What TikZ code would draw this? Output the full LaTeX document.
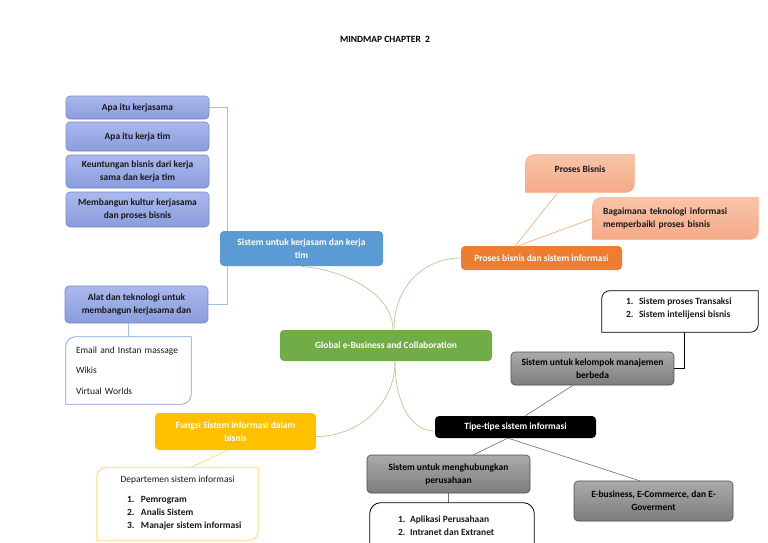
\documentclass[tikz,border=0pt]{standalone}
\usepackage{fontspec}
\setmainfont{Carlito}
\usetikzlibrary{calc}
\pgfdeclarelayer{back}
\pgfdeclarelayer{mid}
\pgfsetlayers{back,mid,main}
\definecolor{lavT}{RGB}{170,184,236}
\definecolor{lavB}{RGB}{138,156,222}
\definecolor{lavD}{RGB}{118,136,204}
\definecolor{blueK}{RGB}{91,155,213}
\definecolor{greenG}{RGB}{112,173,71}
\definecolor{orangeO}{RGB}{237,125,49}
\definecolor{salT}{RGB}{249,196,168}
\definecolor{salB}{RGB}{244,170,136}
\definecolor{salL}{RGB}{244,177,131}
\definecolor{grayT}{RGB}{170,170,170}
\definecolor{grayB}{RGB}{125,125,125}
\definecolor{grayD}{RGB}{75,75,75}
\definecolor{yellowY}{RGB}{255,192,0}
\definecolor{yellowL}{RGB}{255,217,102}
\definecolor{blueL}{RGB}{157,195,230}
\definecolor{blueE}{RGB}{130,160,220}
\definecolor{greenL}{RGB}{169,209,142}
\definecolor{lineG}{RGB}{110,110,110}
\newcommand\fnt{\fontsize{9.5}{13}\selectfont\bfseries}
\newcommand\diagshape[3]{%
  \begin{pgfonlayer}{mid}
  \path[#3] ($(#1.north west)+(0,#2)$) .. controls ($(#1.north west)+(0,0.45*#2)$) and ($(#1.north west)+(0.45*#2,0)$) .. ($(#1.north west)+(#2,0)$)
    -- (#1.north east) -- ($(#1.south east)+(0,-#2)$) .. controls ($(#1.south east)+(0,-0.45*#2)$) and ($(#1.south east)+(-0.45*#2,0)$) .. ($(#1.south east)+(-#2,0)$)
    -- (#1.south west) -- cycle;
  \end{pgfonlayer}}
\begin{document}
\begin{tikzpicture}[x=1pt,y=-1pt,
  box/.style={inner sep=0pt, align=center, font=\fnt, rounded corners=4pt, line width=0.6pt},
  lav/.style={box, top color=lavT, bottom color=lavB, draw=lavD, text=black!90},
  solid/.style={box, fill=#1, text=white},
  grayn/.style={box, top color=grayT, bottom color=grayB, draw=grayD, text=black},
  plain/.style={box, text=black!90},
  gcurve/.style={draw=greenL, line width=0.7pt},
  gline/.style={draw=lineG, line width=0.6pt},
  titlestyle/.style={font=\fontsize{9.5}{11}\selectfont\bfseries, inner sep=0pt}
]
\begin{pgfonlayer}{back}
\fill[white] (0,0) rectangle (768,543);
\end{pgfonlayer}
\useasboundingbox (0,0) rectangle (768,543);

\node[titlestyle] (title) at (385,39) {MINDMAP CHAPTER\ \ 2};

% left column
\node[lav, minimum width=143pt, minimum height=23pt] (a1) at (137.5,107.5) {Apa itu kerjasama};
\node[lav, minimum width=143pt, minimum height=29pt] (a2) at (137.5,136.5) {Apa itu kerja tim};
\node[lav, minimum width=143pt, minimum height=33pt] (a3) at (137.5,171.5) {Keuntungan bisnis dari kerja\\sama dan kerja tim};
\node[lav, minimum width=143pt, minimum height=35pt] (a4) at (137.5,209.5) {Membangun kultur kerjasama\\dan proses bisnis};
\node[lav, minimum width=143pt, minimum height=37pt] (a5) at (136.5,304.5) {Alat dan teknologi untuk\\membangun kerjasama dan};
\node[solid=blueK, minimum width=163pt, minimum height=35pt] (kt) at (301.5,248.5) {Sistem untuk kerjasam dan kerja\\tim};
\node[plain, text width=105pt, inner xsep=10pt, minimum height=67pt, align=left,
      font=\fontsize{9.5}{20.5}\selectfont] (em) at (128.5,370.5) {Email and Instan massage\\Wikis\\Virtual Worlds};
\diagshape{em}{10}{fill=white, draw=blueE, line width=0.7pt}

% center
\node[solid=greenG, minimum width=212pt, minimum height=31pt] (g) at (386,345.5) {Global e-Business and Collaboration};

% orange branch
\node[solid=orangeO, minimum width=161pt, minimum height=24pt] (pr) at (541.5,258) {Proses bisnis dan sistem informasi};
\node[plain, minimum width=108pt, minimum height=37pt] (pb) at (580,173.5) {Proses Bisnis\\[-5pt]\mbox{}};
\diagshape{pb}{8}{top color=salT, bottom color=salB, draw=salL, line width=0.5pt}
\node[plain, text width=145pt, inner xsep=10pt, minimum height=41pt, align=left] (bg) at (675.5,218.5) {Bagaimana teknologi informasi\\memperbaiki proses bisnis};
\diagshape{bg}{8}{top color=salT, bottom color=salB, draw=salL, line width=0.5pt}

% black branch
\node[plain, minimum width=156pt, minimum height=41pt] (sp) at (680,311.5)
  {\makebox[108pt][l]{\begin{tabular}[t]{@{}l@{}}\makebox[13pt][l]{1.}Sistem proses Transaksi\\\makebox[13pt][l]{2.}Sistem intelijensi bisnis\end{tabular}}\\[5pt]\mbox{}};
\diagshape{sp}{8}{fill=white, draw=black, line width=0.8pt}
\node[grayn, minimum width=163pt, minimum height=33pt] (gm) at (592.5,368.5) {Sistem untuk kelompok manajemen\\berbeda};
\node[solid=black, minimum width=161pt, minimum height=22pt] (tt) at (515.5,427) {Tipe-tipe sistem informasi};
\node[grayn, minimum width=163pt, minimum height=38pt] (gh) at (448.5,474) {Sistem untuk menghubungkan\\perusahaan};
\node[plain, minimum width=164pt, minimum height=52pt] (ap) at (452,529)
  {\makebox[108pt][l]{\begin{tabular}[t]{@{}l@{}}\makebox[12pt][l]{1.}Aplikasi Perusahaan\\\makebox[12pt][l]{2.}Intranet dan Extranet\end{tabular}}\\[5pt]\mbox{}};
\begin{pgfonlayer}{mid}
\path[fill=white, draw=black, line width=0.8pt, rounded corners=11pt] (ap.south west) rectangle (ap.north east);
\end{pgfonlayer}
\node[grayn, minimum width=159pt, minimum height=40pt] (eb) at (653.5,501) {E-business, E-Commerce, dan E-\\Goverment};

% yellow branch
\node[solid=yellowY, minimum width=161pt, minimum height=37pt] (fy) at (235.5,431.5) {Fungsi Sistem informasi dalam\\bisnis};
\node[plain, minimum width=161pt, minimum height=73pt] (dp) at (177.5,504)
  {\mbox{}\\[-7pt]{\mdseries Departemen sistem informasi}\\[7pt]\makebox[101pt][l]{\begin{tabular}[t]{@{}l@{}}\makebox[14pt][l]{1.}Pemrogram\\\makebox[14pt][l]{2.}Analis Sistem\\\makebox[14pt][l]{3.}Manajer sistem informasi\end{tabular}}};
\diagshape{dp}{10}{fill=white, draw=yellowL, line width=0.8pt}

% connectors
\begin{pgfonlayer}{back}
\draw[draw=blueL, line width=0.7pt] (a1.east) -- ++(18,0) |- (a5.east);
\draw[draw=blueL, line width=0.7pt] (em.north) -- (em.north |- a5.south);
\draw[gcurve] ($(g.north)+(7,0)$) .. controls +(0,-35) and +(45,4) .. (kt.south);
\draw[gcurve] ($(g.north)+(8,0)$) .. controls +(0,-45) and +(-35,0) .. (pr.west);
\draw[gcurve] ($(g.south)+(9,0)$) .. controls +(0,45) and +(40,0) .. ($(fy.east)+(0,5)$);
\draw[gcurve] ($(g.south)+(9,0)$) .. controls +(0,40) and +(-25,0) .. ($(tt.west)+(0,4)$);
\draw[draw=salL, line width=0.7pt] ($(pr.north)+(-26,0)$) -- ($(pb.south)+(-22,0)$);
\draw[draw=salL, line width=0.7pt] ($(pr.north)+(-23,0)$) -- (bg.west);
\draw[draw=yellowL, line width=0.7pt] ($(fy.south)+(-8,0)$) -- ($(dp.north)+(14,0)$);
\draw[gline] ($(tt.north)+(10,0)$) -- ($(gm.south)+(-19.5,0)$);
\draw[gline] ($(tt.south)+(-8,0)$) -- ($(gh.north)+(25,0)$);
\draw[gline] ($(tt.south)+(-7,0)$) -- ($(eb.north)+(-14,0)$);
\draw[gline] (gh.south) -- (gh.south |- ap.north);
\draw[black, line width=1.1pt] (gm.east) -| ($(sp.south west)+(83,0)$);
\end{pgfonlayer}
\end{tikzpicture}
\end{document}
